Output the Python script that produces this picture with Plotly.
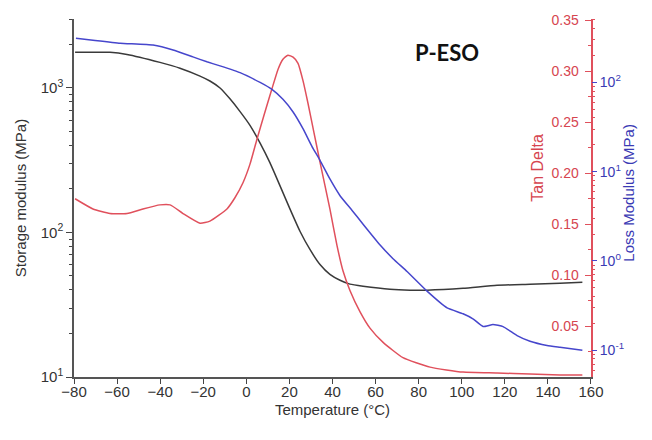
import plotly.graph_objects as go

# Storage modulus E' (MPa) vs temperature
temp_storage = [-79.5, -63.3, -55.4, -40.1, -30.8, -21.5, -16.9, -12.2, -7.6, -2.9, 1.7,
                6.4, 11.0, 15.6, 20.3, 24.9, 29.6, 34.2, 38.8, 43.5, 48.1, 54.2, 66.7,
                76.0, 83.9, 100.6, 116.4, 131.7, 145.6, 156.0]
storage_modulus = [1763, 1763, 1706, 1503, 1370, 1208, 1117, 1000, 841, 686, 551,
                   415, 303, 211, 145, 102, 76, 60, 51.3, 46.7, 43.9, 42.5, 40.5,
                   39.9, 39.9, 41.1, 43.1, 43.8, 44.5, 45.2]

# Tan delta vs temperature
temp_tan = [-79.5, -71.2, -63.3, -55.4, -48.0, -40.1, -35.4, -29.4, -21.5, -16.9, -9.0,
            -5.3, -1.5, 1.7, 5.0, 8.2, 11.9, 14.7, 17.0, 19.3, 21.7, 24.0, 26.3, 28.6,
            31.4, 34.2, 38.8, 42.1, 44.9, 48.1, 52.8, 57.4, 63.5, 72.7, 85.3, 100.6,
            116.4, 131.7, 145.6, 156.0]
tan_delta = [0.175, 0.165, 0.1605, 0.1605, 0.165, 0.169, 0.169, 0.1605, 0.151, 0.153, 0.165,
             0.176, 0.191, 0.209, 0.234, 0.257, 0.283, 0.302, 0.312, 0.316, 0.314, 0.308,
             0.291, 0.269, 0.240, 0.211, 0.165, 0.129, 0.104, 0.085, 0.064, 0.048, 0.034,
             0.019, 0.0097, 0.0048, 0.0039, 0.0029, 0.0019, 0.0019]

# Loss modulus E'' (MPa) vs temperature
temp_loss = [-79.1, -71.2, -58.6, -43.3, -34.0, -24.8, -18.3, -12.2, -2.9, 6.4, 11.9,
             17.0, 21.7, 26.3, 30.5, 34.2, 38.8, 43.5, 49.1, 54.2, 62.1, 68.1, 74.6, 83.9,
             93.2, 100.6, 105.2, 109.9, 114.5, 119.2, 125.7, 131.7, 139.6, 145.6, 156.0]
loss_modulus = [312.6, 297, 275, 262, 231, 193, 170, 153, 128.5, 99.8, 83.5,
                64.7, 46.6, 30.3, 19.1, 13.4, 8.28, 5.38, 3.68, 2.58, 1.51, 1.06, 0.762, 0.459,
                0.298, 0.256, 0.225, 0.184, 0.194, 0.184, 0.146, 0.126, 0.113, 0.108, 0.100]

x_ticks = [-80, -60, -40, -20, 0, 20, 40, 60, 80, 100, 120, 140, 160]
storage_ticks = [10, 100, 1000]
storage_ticktext = ["10<sup>1</sup>", "10<sup>2</sup>", "10<sup>3</sup>"]
tan_ticks = [0.05, 0.10, 0.15, 0.20, 0.25, 0.30, 0.35]
tan_ticktext = ["0.05", "0.10", "0.15", "0.20", "0.25", "0.30", "0.35"]
loss_ticks = [0.1, 1, 10, 100]
loss_ticktext = ["10<sup>-1</sup>", "10<sup>0</sup>", "10<sup>1</sup>", "10<sup>2</sup>"]

BLACK = "#3a3a3a"
RED = "#e0505c"
RED_TXT = "#d6454f"
BLUE = "#4646cc"
BLUE_TXT = "#3a3ab4"
FONT = "Liberation Sans, Arial, sans-serif"


def log_minors(decades, top=None):
    vals = []
    for d in decades:
        for m in range(2, 10):
            v = m * d
            if top is None or v <= top:
                vals.append(v)
    return vals


fig = go.Figure()
fig.add_trace(go.Scatter(x=temp_storage, y=storage_modulus, mode="lines",
                         line=dict(color=BLACK, width=1.5, shape="spline", smoothing=0.5),
                         yaxis="y", showlegend=False))
fig.add_trace(go.Scatter(x=temp_tan, y=tan_delta, mode="lines",
                         line=dict(color=RED, width=1.5, shape="spline", smoothing=0.5),
                         yaxis="y2", showlegend=False))
fig.add_trace(go.Scatter(x=temp_loss, y=loss_modulus, mode="lines",
                         line=dict(color=BLUE, width=1.5, shape="spline", smoothing=0.4),
                         yaxis="y3", showlegend=False))

fig.update_layout(
    width=652, height=440,
    margin=dict(l=74, r=61, t=14, b=63),
    paper_bgcolor="white", plot_bgcolor="white",
    font=dict(family=FONT, size=15, color="#333333"),
    xaxis=dict(
        range=[-80, 160.01], tickvals=x_ticks, ticks="outside", ticklen=5, tickwidth=1.2,
        tickcolor="#444444", showline=True, linecolor="#555555", linewidth=1.5,
        showgrid=False, zeroline=False, ticklabelstandoff=-5,
        tickfont=dict(size=15, color="#333333"),
        title=dict(text="Temperature (°C)", font=dict(size=15, color="#333333"), standoff=6),
    ),
    yaxis=dict(
        type="log", range=[1, 3.4771], tickvals=storage_ticks, ticktext=storage_ticktext,
        ticks="outside", ticklen=6, tickwidth=1.2, tickcolor="#444444",
        minor=dict(tickvals=log_minors([10, 100, 1000], top=3000), ticks="outside",
                   ticklen=3, tickcolor="#444444"),
        showline=True, linecolor="#555555", linewidth=1.5, showgrid=False, zeroline=False,
        tickfont=dict(size=15, color="#333333"),
        title=dict(text="Storage modulus (MPa)", font=dict(size=15, color="#333333"), standoff=10),
    ),
    yaxis2=dict(
        range=[0, 0.3515], overlaying="y", side="right", anchor="x",
        tickvals=tan_ticks, ticktext=tan_ticktext, ticks="inside", ticklen=6,
        tickwidth=1.2, tickcolor=RED, ticklabelposition="outside", ticklabelstandoff=-44,
        minor=dict(dtick=0.025, ticks="inside", ticklen=3, tickcolor=RED),
        showline=True, linecolor=RED, linewidth=1.5, showgrid=False, zeroline=False,
        tickfont=dict(size=14, color=RED_TXT),
    ),
    yaxis3=dict(
        type="log", range=[-1.30, 2.71], overlaying="y", side="right", anchor="x",
        tickvals=loss_ticks, ticktext=loss_ticktext, ticks="outside", ticklen=5,
        tickwidth=1.2, tickcolor=BLUE,
        minor=dict(tickvals=[0.06, 0.07, 0.08, 0.09] + log_minors([0.1, 1, 10, 100], top=500),
                   ticks="outside", ticklen=3, tickcolor=RED),
        showline=False, showgrid=False, zeroline=False,
        tickfont=dict(size=14, color=BLUE_TXT),
    ),
    annotations=[
        dict(text="Tan Delta", textangle=-90, xref="paper", yref="paper",
             x=0.897, y=0.584, xanchor="center", yanchor="middle", showarrow=False,
             font=dict(size=16, color=RED_TXT)),
        dict(text="Loss Modulus (MPa)", textangle=-90, xref="paper", yref="paper",
             x=1.0735, y=0.515, xanchor="center", yanchor="middle", showarrow=False,
             font=dict(size=15, color=BLUE_TXT)),
        dict(text="<b>P-ESO</b>", xref="paper", yref="paper", x=0.721, y=0.906,
             xanchor="center", yanchor="middle", showarrow=False,
             font=dict(family="Lato, Open Sans, sans-serif", size=22, color="#111111")),
    ],
)

fig.write_html("out.html")
